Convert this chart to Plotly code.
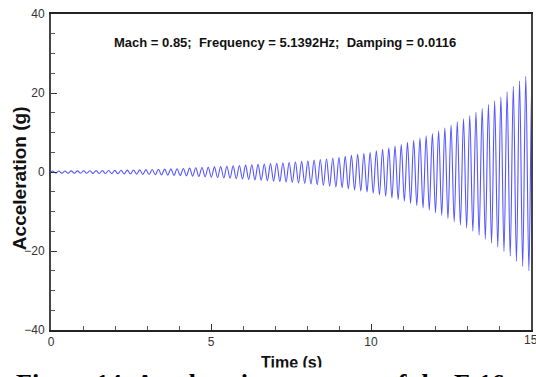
import plotly.graph_objects as go

# ---- data ----
frequency_hz = 5.1392
title_text = "Mach = 0.85;  Frequency = 5.1392Hz;  Damping = 0.0116"

# upper peak value of each cycle (g)
peak_values = [0.25, 0.26, 0.27, 0.28, 0.29, 0.30, 0.32, 0.34, 0.36, 0.38,
               0.40, 0.44, 0.48, 0.51, 0.55, 0.59, 0.64, 0.69, 0.74, 0.79,
               0.84, 0.90, 0.98, 1.06, 1.14, 1.22, 1.30, 1.39, 1.47, 1.56,
               1.65, 1.74, 1.84, 1.93, 2.03, 2.13, 2.23, 2.35, 2.47, 2.58,
               2.70, 2.82, 3.00, 3.17, 3.35, 3.52, 3.70, 3.95, 4.20, 4.45,
               4.70, 4.95, 5.35, 5.75, 6.15, 6.55, 6.95, 7.5, 8.05, 8.6,
               9.15, 9.75, 10.4, 11.2, 11.9, 12.7, 13.5, 14.3, 15.2, 16.1,
               17.1, 18.0, 19.0, 20.3, 21.7, 23.0, 24.2, 25.3]
# lower trough value of each cycle (g)
trough_values = [-0.27, -0.28, -0.29, -0.30, -0.31, -0.33, -0.35, -0.37, -0.39, -0.41,
                 -0.44, -0.48, -0.52, -0.55, -0.60, -0.64, -0.69, -0.75, -0.80, -0.85,
                 -0.91, -0.98, -1.06, -1.15, -1.23, -1.32, -1.41, -1.50, -1.59, -1.69,
                 -1.78, -1.88, -1.99, -2.09, -2.20, -2.30, -2.41, -2.54, -2.67, -2.79,
                 -2.92, -3.05, -3.24, -3.43, -3.62, -3.80, -4.0, -4.27, -4.54, -4.81,
                 -5.08, -5.35, -5.75, -6.15, -6.6, -7.0, -7.4, -7.95, -8.5, -9.1,
                 -9.7, -10.3, -11.0, -11.8, -12.6, -13.4, -14.2, -15.0, -16.0, -17.0,
                 -18.0, -19.0, -20.1, -21.3, -22.6, -23.9, -25.0, -26.0]

x_ticks = [0, 5, 10, 15]
y_ticks = [-40, -20, 0, 20, 40]

# ---- build the trace ----
period = 1.0 / frequency_hz
times = [0.0]
accel = [0.0]
for k, (p, q) in enumerate(zip(peak_values, trough_values)):
    times.append((k + 0.25) * period)
    accel.append(p)
    times.append((k + 0.75) * period)
    accel.append(q)

fig = go.Figure()
fig.add_trace(go.Scatter(x=times, y=accel, mode="lines",
                         line=dict(color="rgb(85,85,255)", width=1.1, shape="spline", smoothing=1),
                         showlegend=False, hoverinfo="skip"))

tick_font = dict(family="Liberation Sans Narrow, Arial Narrow, Liberation Sans, Arial",
                 size=12, color="#333")

fig.update_layout(
    width=536, height=377,
    margin=dict(l=51, r=3, t=14, b=47),
    paper_bgcolor="white", plot_bgcolor="white",
    xaxis=dict(range=[0, 15], tickvals=x_ticks[:-1], ticks="inside", ticklen=6,
               tickwidth=1, tickcolor="#333", showgrid=False, zeroline=False,
               showline=True, linecolor="#222", linewidth=2, mirror=True,
               tickfont=tick_font,
               minor=dict(dtick=1, ticks="inside", ticklen=4, tickcolor="#555", showgrid=False)),
    yaxis=dict(range=[-40, 40], tickvals=y_ticks, ticks="inside", ticklen=6,
               tickwidth=1, tickcolor="#333", showgrid=False, zeroline=False,
               showline=True, linecolor="#444", linewidth=2, mirror=True,
               tickfont=tick_font, ticklabelstandoff=2,
               minor=dict(dtick=5, ticks="inside", ticklen=4, tickcolor="#555", showgrid=False)),
)

# last x tick label sits on the right edge and is cut, as in the reference
fig.add_annotation(text=str(x_ticks[-1]), xref="x", yref="paper", x=x_ticks[-1],
                   y=(330 - 340) / 316, showarrow=False, xanchor="center", yanchor="middle",
                   font=tick_font)

bold_sans = "Liberation Sans, Arial, sans-serif"
fig.add_annotation(text="<b>" + title_text + "</b>", xref="paper", yref="paper",
                   x=(286 - 51) / 482, y=(330 - 42) / 316, showarrow=False,
                   xanchor="center", yanchor="middle",
                   font=dict(family=bold_sans, size=13, color="#111"))
fig.add_annotation(text="<b>Acceleration (g)</b>", xref="paper", yref="paper",
                   x=(19 - 51) / 482, y=(330 - 178) / 316, showarrow=False,
                   textangle=-90, xanchor="center", yanchor="middle",
                   font=dict(family=bold_sans, size=19, color="#111"))
fig.add_annotation(text="<b>Time (s)</b>", xref="paper", yref="paper",
                   x=(292 - 51) / 482, y=(330 - 362) / 316, showarrow=False,
                   xanchor="center", yanchor="middle",
                   font=dict(family=bold_sans, size=16, color="#111"))
fig.add_annotation(text="<b>Figure 14: Acceleration response of the F-16</b>",
                   xref="paper", yref="paper",
                   x=(14 - 51) / 482, y=(330 - 367) / 316, showarrow=False,
                   xanchor="left", yanchor="top", bgcolor="white",
                   font=dict(family="Liberation Serif, Times New Roman, serif", size=26, color="#000"))

fig.write_html("out.html")
